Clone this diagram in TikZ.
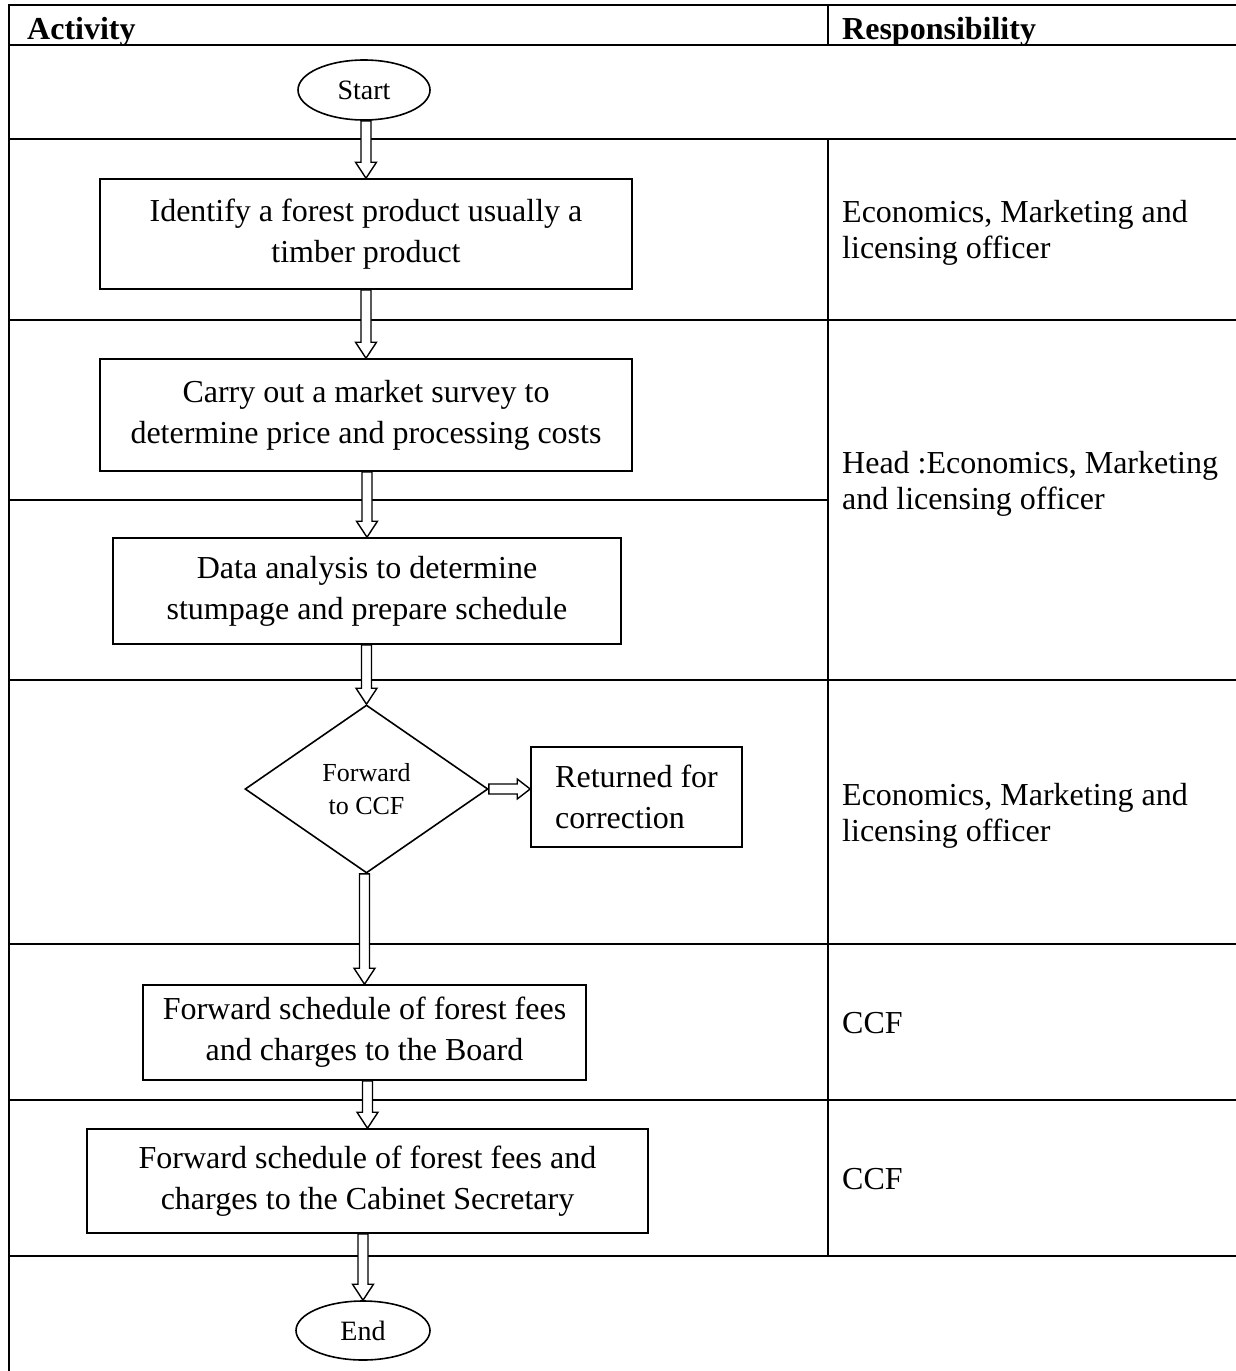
\documentclass[tikz,border=0pt]{standalone}
\usepackage{fontspec}
\setmainfont{Liberation Serif}
\usetikzlibrary{shapes.geometric,calc}
\tikzset{
 tline/.style={line width=2.2pt},
 boxn/.style={draw, line width=1.6pt, rectangle, inner sep=0pt, align=center, font=\fontsize{32}{41}\selectfont},
 retn/.style={draw, line width=1.6pt, rectangle, inner sep=0pt, align=left, font=\fontsize{32}{41}\selectfont},
 termn/.style={draw, line width=1.6pt, ellipse, inner sep=0pt, font=\fontsize{28}{32}\selectfont},
 decn/.style={draw, line width=1.6pt, diamond, inner sep=0pt, align=center, font=\fontsize{26}{33}\selectfont},
 barrow/.style={draw, fill=white, line width=1.4pt, line join=miter},
 resp/.style={anchor=base west, inner sep=0pt, font=\fontsize{32}{36}\selectfont},
 hdr/.style={anchor=base west, inner sep=0pt, font=\fontsize{32}{36}\selectfont\bfseries},
}
\newcommand\dnarrow[2]{%
 \draw[barrow] ($(#1.south -| #2.north)+(-5,0)$) -- ($(#2.north)+(-5,-16)$) -- ($(#2.north)+(-10.5,-16)$) -- (#2.north) -- ($(#2.north)+(10.5,-16)$) -- ($(#2.north)+(5,-16)$) -- ($(#1.south -| #2.north)+(5,0)$) -- cycle;}
\begin{document}
\begin{tikzpicture}[x=1pt,y=-1pt]
\useasboundingbox (0,0) rectangle (1236,1371);
% table
\foreach \yy in {5,45,139,320,680,944,1100,1256}{\draw[tline] (9,\yy) -- (1240,\yy);}
\draw[tline] (9,500) -- (828,500);
\draw[tline] (9,4) -- (9,1375);
\draw[tline] (828,5) -- (828,45);
\draw[tline] (828,139) -- (828,1256);
% headers
\node[hdr] (hact) at (27,39) {Activity};
\node[hdr] (hres) at (842,39) {Responsibility};
% responsibilities
\node[resp] (r1) at (842,222) {\parbox[t]{390pt}{Economics, Marketing and\\licensing officer}};
\node[resp] (r2) at (842,473) {\parbox[t]{390pt}{Head :Economics, Marketing\\and licensing officer}};
\node[resp] (r3) at (842,805) {\parbox[t]{390pt}{Economics, Marketing and\\licensing officer}};
\node[resp] (r4) at (842,1033) {CCF};
\node[resp] (r5) at (842,1189) {CCF};
% flow nodes
\node[termn, minimum width=132pt, minimum height=60pt] (start) at (364,90) {Start};
\node[boxn, minimum width=532pt, minimum height=110pt] (b1) at (366,234) {Identify a forest product usually a\\timber product};
\node[boxn, minimum width=532pt, minimum height=112pt] (b2) at (366,415) {Carry out a market survey to\\determine price and processing costs};
\node[boxn, minimum width=508pt, minimum height=106pt] (b3) at (367,591) {Data analysis to determine\\stumpage and prepare schedule};
\node[decn, minimum width=243pt, minimum height=168pt] (dec) at (366.5,789) {Forward\\to CCF};
\node[retn, minimum width=211pt, minimum height=100pt] (ret) at (636.5,797) {Returned for\\correction};
\node[boxn, minimum width=443pt, minimum height=95pt] (b6) at (364.5,1032.5) {Forward schedule of forest fees\\and charges to the Board};
\node[boxn, minimum width=561pt, minimum height=104pt] (b7) at (367.5,1181) {Forward schedule of forest fees and\\charges to the Cabinet Secretary};
\node[termn, minimum width=134pt, minimum height=59pt] (endn) at (363,1330.5) {End};
% arrows
\dnarrow{start}{b1}
\dnarrow{b1}{b2}
\dnarrow{b2}{b3}
\dnarrow{b3}{dec}
\dnarrow{dec}{b6}
\dnarrow{b6}{b7}
\dnarrow{b7}{endn}
\draw[barrow] ($(dec.east)+(0,-5)$) -- ($(ret.west |- dec.east)+(-13,-5)$) -- ($(ret.west |- dec.east)+(-13,-10)$) -- (ret.west |- dec.east) -- ($(ret.west |- dec.east)+(-13,10)$) -- ($(ret.west |- dec.east)+(-13,5)$) -- ($(dec.east)+(0,5)$) -- cycle;
\end{tikzpicture}
\end{document}
